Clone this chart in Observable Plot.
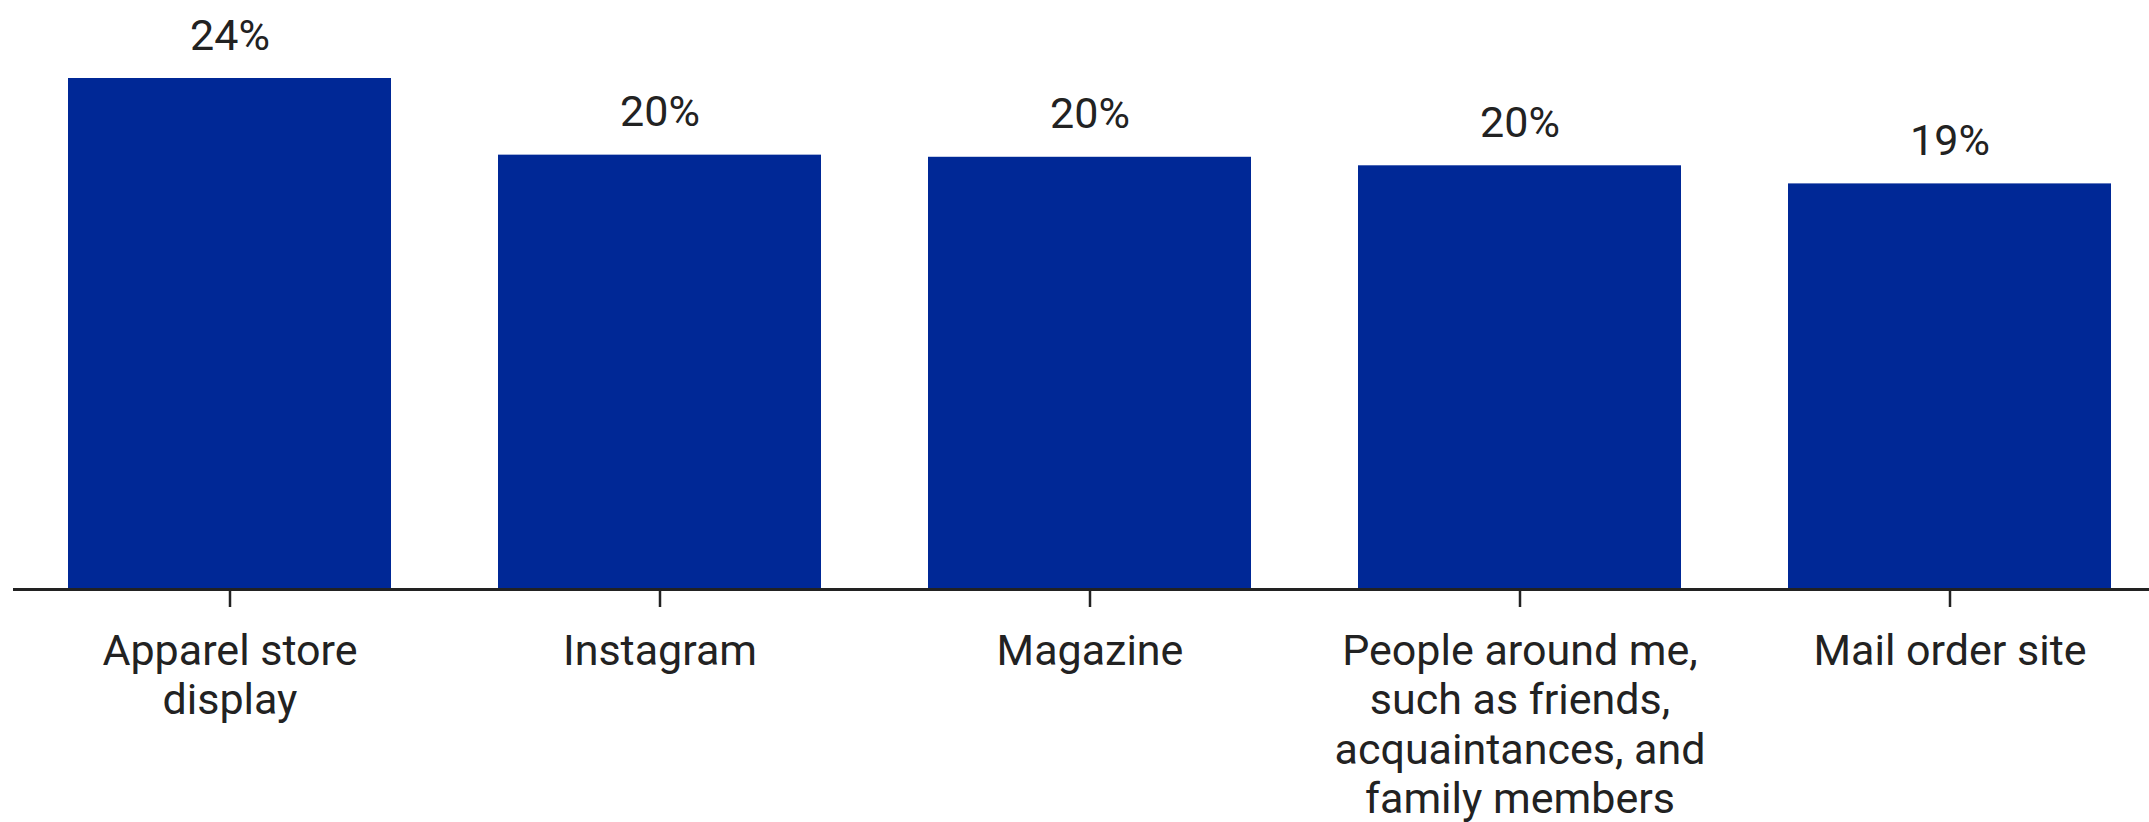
<!DOCTYPE html>
<html>
<head>
<meta charset="utf-8">
<script src="https://cdn.jsdelivr.net/npm/d3@7"></script>
<script src="https://cdn.jsdelivr.net/npm/@observablehq/plot@0.6"></script>
<style>
  html, body { margin: 0; padding: 0; background: #fff; }
  #chart svg { display: block; }
</style>
</head>
<body>
<div id="chart"></div>
<script>
const categories = [
  "Apparel store display",
  "Instagram",
  "Magazine",
  "People around me, such as friends, acquaintances, and family members",
  "Mail order site"
];
const tickLabels = [
  "Apparel store\ndisplay",
  "Instagram",
  "Magazine",
  "People around me,\nsuch as friends,\nacquaintances, and\nfamily members",
  "Mail order site"
];
const values = [24.0, 20.4, 20.3, 19.9, 19.05];
const valueLabels = ["24%", "20%", "20%", "20%", "19%"];

const data = categories.map((c, i) => ({category: c, value: values[i], label: valueLabels[i]}));
const tickMap = new Map(categories.map((c, i) => [c, tickLabels[i]]));

const barColor = "#002896";
const textColor = "#222222";
const fontSize = 43;

const chart = Plot.plot({
  width: 2149,
  height: 822,
  marginLeft: 13,
  marginRight: 0,
  marginTop: 78,
  marginBottom: 233,
  style: {fontFamily: "Roboto, sans-serif", color: textColor, background: "#fff"},
  x: {domain: categories, range: [13.5, 2165], paddingInner: 0.25, paddingOuter: 0.125, label: null},
  y: {domain: [0, 24], axis: null},
  marks: [
    Plot.barY(data, {x: "category", y: "value", fill: barColor}),
    Plot.ruleY([0], {stroke: textColor, strokeWidth: 3}),
    Plot.axisX({
      tickSize: 18,
      tickPadding: 22,
      strokeWidth: 2.5,
      stroke: textColor,
      fill: textColor,
      fontSize: fontSize,
      lineHeight: 1.15,
      tickFormat: d => tickMap.get(d),
      label: null
    }),
    Plot.text(data, {
      x: "category",
      y: "value",
      text: "label",
      dy: -29,
      lineAnchor: "bottom",
      fontSize: fontSize,
      fill: textColor
    })
  ]
});
document.getElementById("chart").appendChild(chart);
</script>
</body>
</html>
